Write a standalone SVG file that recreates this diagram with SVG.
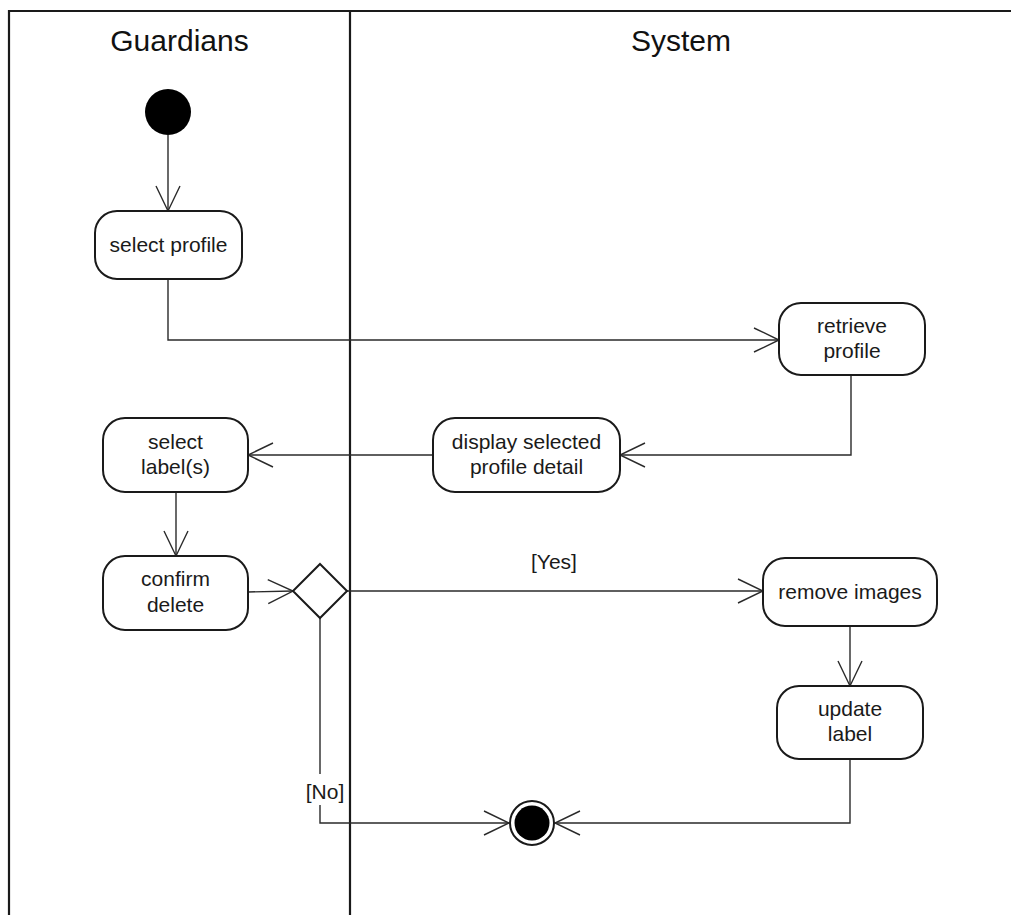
<svg xmlns="http://www.w3.org/2000/svg" width="1011" height="915" viewBox="0 0 1011 915">
  <style>
    .lane { stroke: #1a1a1a; stroke-width: 2.2; fill: none; }
    .title { font-family: "Liberation Sans", Arial, sans-serif; font-size: 30px; fill: #111; text-anchor: middle; }
    .act { fill: #fff; stroke: #1a1a1a; stroke-width: 2; }
    .lbl { font-family: "Liberation Sans", Arial, sans-serif; font-size: 21px; fill: #1a1a1a; text-anchor: middle; }
    .flow { stroke: #2a2a2a; stroke-width: 1.4; fill: none; }
  </style>
  <defs>
    <marker id="open" markerUnits="userSpaceOnUse" markerWidth="30" markerHeight="30" viewBox="-26 -14 30 28" refX="0" refY="0" orient="auto">
      <path d="M-25,-12 L0,0 L-25,12" fill="none" stroke="#2a2a2a" stroke-width="1.4"/>
    </marker>
  </defs>

  <rect width="1011" height="915" fill="#fff"/>

  <!-- swimlanes -->
  <g id="lanes">
    <path class="lane" d="M9,915 V11 H1011"/>
    <path class="lane" d="M350,11 V915"/>
    <text class="title" x="179.5" y="51">Guardians</text>
    <text class="title" x="681" y="51">System</text>
  </g>

  <!-- control flows -->
  <g id="connectors">
    <path class="flow" d="M168,135 V211" marker-end="url(#open)"/>
    <path class="flow" d="M168,279 V340 H779" marker-end="url(#open)"/>
    <path class="flow" d="M851,375 V455 H620" marker-end="url(#open)"/>
    <path class="flow" d="M433,455 H248" marker-end="url(#open)"/>
    <path class="flow" d="M176,492 V556" marker-end="url(#open)"/>
    <path class="flow" d="M248,592 L293,591" marker-end="url(#open)"/>
    <path class="flow" d="M347,591 H763" marker-end="url(#open)"/>
    <path class="flow" d="M850,626 V686" marker-end="url(#open)"/>
    <path class="flow" d="M850,759 V823 H555" marker-end="url(#open)"/>
    <path class="flow" d="M320,618 V823 H509" marker-end="url(#open)"/>
    <rect x="305" y="774" width="40" height="31" fill="#fff"/>
    <text class="lbl" x="325" y="799">[No]</text>
    <text class="lbl" x="554" y="569">[Yes]</text>
  </g>

  <g id="start">
    <circle cx="168" cy="112" r="23" fill="#000"/>
  </g>

  <g id="select-profile">
    <rect class="act" x="95" y="211" width="147" height="68" rx="22"/>
    <text class="lbl" x="168.5" y="252">select profile</text>
  </g>

  <g id="retrieve-profile">
    <rect class="act" x="779" y="303" width="146" height="72" rx="22"/>
    <text class="lbl" x="852" y="333">retrieve</text>
    <text class="lbl" x="852" y="358">profile</text>
  </g>

  <g id="display-profile">
    <rect class="act" x="433" y="418" width="187" height="74" rx="22"/>
    <text class="lbl" x="526.5" y="449">display selected</text>
    <text class="lbl" x="526.5" y="474">profile detail</text>
  </g>

  <g id="select-labels">
    <rect class="act" x="103" y="418" width="145" height="74" rx="22"/>
    <text class="lbl" x="175.5" y="449">select</text>
    <text class="lbl" x="175.5" y="474">label(s)</text>
  </g>

  <g id="confirm-delete">
    <rect class="act" x="103" y="556" width="145" height="74" rx="22"/>
    <text class="lbl" x="175.5" y="586">confirm</text>
    <text class="lbl" x="175.5" y="612">delete</text>
  </g>

  <g id="decision">
    <path class="act" d="M320,564 L347,591 L320,618 L293,591 Z"/>
  </g>

  <g id="remove-images">
    <rect class="act" x="763" y="558" width="174" height="68" rx="22"/>
    <text class="lbl" x="850" y="599">remove images</text>
  </g>

  <g id="update-label">
    <rect class="act" x="777" y="686" width="146" height="73" rx="22"/>
    <text class="lbl" x="850" y="716">update</text>
    <text class="lbl" x="850" y="741">label</text>
  </g>

  <g id="end">
    <circle cx="532" cy="823" r="22" fill="#fff" stroke="#1a1a1a" stroke-width="2"/>
    <circle cx="532" cy="823" r="17.5" fill="#000"/>
  </g>
</svg>
